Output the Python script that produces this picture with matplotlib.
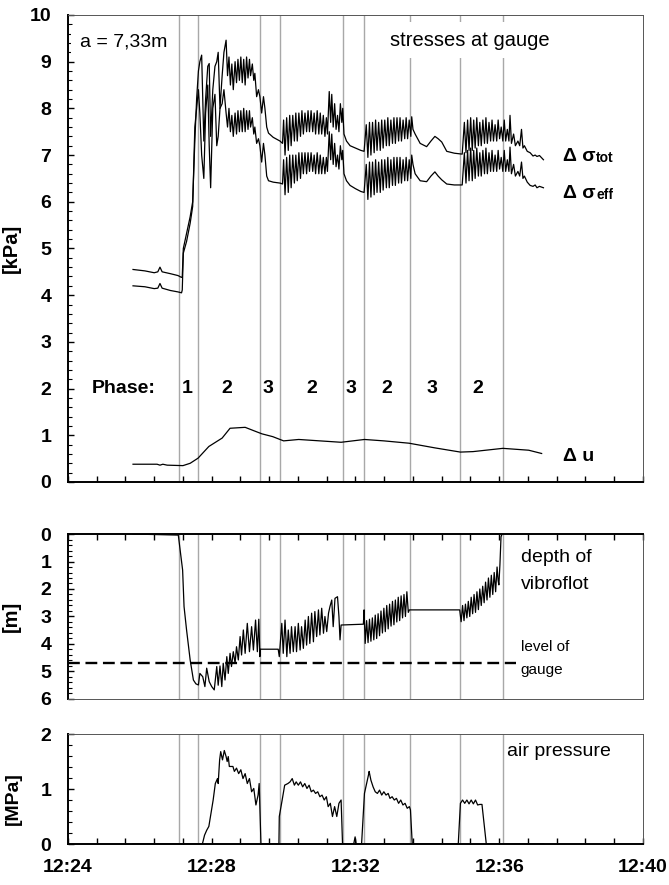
import matplotlib.pyplot as plt
from matplotlib.ticker import MultipleLocator, FuncFormatter

plt.rcParams['font.family'] = ['Liberation Sans', 'DejaVu Sans']
plt.rcParams['font.weight'] = 'bold'
plt.rcParams['axes.labelweight'] = 'bold'

# all times in minutes after 12:24
phase_lines = [3.09, 3.62, 5.34, 5.90, 7.65, 8.24, 9.52, 10.91, 12.10]
phase_names = ['1', '2', '3', '2', '3', '2', '3', '2']
phase_name_t = [3.31, 4.42, 5.57, 6.79, 7.87, 8.88, 10.13, 11.41]

# stresses at the gauge [kPa]
t_stress = [
    1.81, 2.14, 2.40, 2.50, 2.56, 2.62, 2.85, 3.06, 3.16,
    3.18, 3.21, 3.30, 3.40, 3.47, 3.53, 3.58, 3.63, 3.67, 3.72, 3.78, 3.83, 3.89, 3.93,
    3.97, 4.03, 4.09, 4.14, 4.18, 4.23, 4.29, 4.34, 4.40, 4.44, 4.48, 4.52, 4.56, 4.60,
    4.65, 4.69, 4.73, 4.77, 4.81, 4.85, 4.89, 4.93, 4.97, 5.01, 5.05, 5.08, 5.13, 5.17,
    5.20, 5.25, 5.30, 5.34, 5.39, 5.44, 5.48, 5.53, 5.58, 5.71, 5.90, 5.97,
    6.00, 6.04, 6.085, 6.13, 6.17, 6.21, 6.255, 6.30, 6.34, 6.38, 6.425, 6.47, 6.51, 6.55,
    6.595, 6.64, 6.68, 6.72, 6.765, 6.81, 6.85, 6.89, 6.935, 6.98, 7.02, 7.06, 7.105, 7.15,
    7.19, 7.22, 7.27, 7.31, 7.34, 7.38, 7.42, 7.46, 7.50, 7.54, 7.58, 7.62, 7.645,
    7.68, 7.75, 7.85, 8.00, 8.15, 8.24,
    8.30, 8.345, 8.39, 8.43, 8.475, 8.52, 8.56, 8.60, 8.645, 8.69, 8.73, 8.77, 8.815, 8.86,
    8.90, 8.94, 8.985, 9.03, 9.07, 9.11, 9.155, 9.20, 9.24, 9.28, 9.325, 9.37, 9.41, 9.45,
    9.495, 9.54, 9.565,
    9.60, 9.66, 9.80, 9.98, 10.10, 10.21, 10.30, 10.40, 10.54, 10.75, 10.97,
    11.03, 11.075, 11.12, 11.16, 11.205, 11.25, 11.29, 11.33, 11.375, 11.42, 11.46, 11.50,
    11.545, 11.59, 11.63, 11.67, 11.715, 11.76, 11.80, 11.84, 11.885, 11.93, 11.97, 12.01,
    12.055, 12.10, 12.14, 12.18, 12.225, 12.27, 12.30,
    12.34, 12.40, 12.45, 12.52, 12.57, 12.62, 12.66, 12.70, 12.78, 12.86, 12.94, 13.00,
    13.05, 13.12, 13.23,
]
sig_tot = [
    4.55, 4.52, 4.48, 4.50, 4.60, 4.50, 4.46, 4.42, 4.38,
    4.40, 5.00, 5.32, 5.68, 6.00, 7.30, 8.20, 8.80, 9.00, 9.14, 7.30, 8.20, 8.90, 8.96,
    7.40, 8.40, 8.90, 9.00, 9.20, 8.00, 8.70, 9.20, 9.46, 8.70, 9.10, 8.50, 8.95, 8.40,
    9.00, 8.55, 9.05, 8.60, 9.10, 8.55, 9.05, 8.50, 9.10, 8.65, 9.05, 8.70, 8.95, 8.60,
    8.75, 8.25, 8.40, 8.25, 7.90, 8.25, 8.00, 7.60, 7.47, 7.38, 7.30, 7.25,
    7.75, 7.00, 7.80, 7.10, 7.85, 7.20, 7.85, 7.30, 7.90, 7.30, 7.90, 7.40, 7.95, 7.45,
    7.90, 7.50, 7.95, 7.50, 7.95, 7.50, 7.90, 7.45, 7.95, 7.45, 7.90, 7.45, 7.85, 7.40,
    7.80, 7.45, 8.36, 7.70, 8.30, 7.60, 8.10, 7.55, 7.85, 7.50, 8.10, 7.70, 8.00,
    7.45, 7.30, 7.20, 7.15, 7.10, 7.08,
    7.65, 6.95, 7.70, 7.00, 7.70, 7.05, 7.75, 7.10, 7.70, 7.10, 7.75, 7.15, 7.75, 7.20,
    7.80, 7.20, 7.75, 7.25, 7.80, 7.25, 7.80, 7.30, 7.80, 7.30, 7.75, 7.35, 7.80, 7.35,
    7.75, 7.40, 7.82,
    7.55, 7.45, 7.25, 7.18, 7.30, 7.40, 7.35, 7.28, 7.08, 7.04, 7.02,
    7.70, 7.05, 7.75, 7.10, 7.80, 7.10, 7.75, 7.15, 7.80, 7.20, 7.70, 7.20,
    7.75, 7.25, 7.80, 7.25, 7.70, 7.30, 7.75, 7.30, 7.65, 7.30, 7.75, 7.35,
    7.60, 7.30, 7.75, 7.30, 7.55, 7.30, 7.85,
    7.25, 7.45, 7.20, 7.30, 7.20, 7.55, 7.15, 7.20, 7.08, 7.05, 6.98, 7.00,
    6.97, 6.99, 6.90,
]
sig_eff = [
    4.20, 4.18, 4.14, 4.15, 4.25, 4.15, 4.10, 4.07, 4.05,
    4.11, 4.90, 5.15, 5.54, 5.90, 7.60, 8.00, 8.40, 7.90, 7.00, 6.50, 7.90, 8.50, 7.20,
    6.30, 8.00, 8.30, 7.20, 7.40, 8.00, 8.10, 8.40, 7.90, 7.60, 8.00, 7.50, 7.85, 7.40,
    7.90, 7.45, 7.95, 7.50, 7.95, 7.50, 8.00, 7.50, 7.95, 7.55, 7.95, 7.60, 7.80, 7.45,
    7.60, 7.25, 7.35, 7.20, 6.85, 7.25, 7.00, 6.55, 6.45, 6.42, 6.40, 6.38,
    6.90, 6.15, 6.95, 6.20, 7.00, 6.30, 7.00, 6.40, 7.00, 6.45, 7.05, 6.50, 7.05, 6.60,
    7.05, 6.60, 7.05, 6.65, 7.05, 6.65, 7.00, 6.60, 7.05, 6.60, 7.00, 6.60, 6.95, 6.60,
    6.95, 6.65, 7.50, 6.90, 7.45, 6.80, 7.25, 6.75, 7.00, 6.70, 7.20, 6.90, 7.10,
    6.60, 6.45, 6.35, 6.28, 6.22, 6.20,
    6.80, 6.05, 6.85, 6.10, 6.85, 6.15, 6.90, 6.20, 6.85, 6.20, 6.90, 6.25, 6.90, 6.30,
    6.95, 6.30, 6.90, 6.35, 6.95, 6.35, 6.95, 6.40, 6.95, 6.40, 6.90, 6.45, 6.95, 6.45,
    6.90, 6.50, 7.00,
    6.80, 6.60, 6.45, 6.43, 6.55, 6.64, 6.55, 6.47, 6.38, 6.36, 6.36,
    7.05, 6.40, 7.10, 6.45, 7.15, 6.45, 7.10, 6.50, 7.15, 6.55, 7.05, 6.55,
    7.10, 6.60, 7.15, 6.60, 7.05, 6.65, 7.10, 6.65, 7.00, 6.65, 7.10, 6.70,
    6.95, 6.65, 7.10, 6.65, 6.90, 6.65, 7.17,
    6.60, 6.80, 6.55, 6.65, 6.55, 6.85, 6.50, 6.55, 6.42, 6.35, 6.33, 6.36,
    6.30, 6.33, 6.30,
]

# pore water pressure [kPa]
t_u = [1.81, 2.48, 2.56, 2.64, 2.76, 3.20, 3.40, 3.62, 3.92, 4.29, 4.51, 4.93, 5.23, 5.40,
       5.70, 6.00, 6.42, 7.01, 7.60, 8.25, 8.79, 9.49, 10.21, 10.92, 11.27, 12.10, 12.82, 13.18]
du = [0.38, 0.38, 0.36, 0.38, 0.36, 0.35, 0.40, 0.51, 0.76, 0.94, 1.15, 1.17, 1.08, 1.03,
      0.97, 0.88, 0.91, 0.88, 0.85, 0.91, 0.88, 0.83, 0.73, 0.64, 0.65, 0.72, 0.68, 0.61]

# depth of vibroflot [m]
t_depth = [
    1.81, 3.07, 3.19, 3.23, 3.30, 3.40, 3.49, 3.56, 3.63, 3.67, 3.75, 3.81, 3.86, 3.93,
    4.00, 4.07, 4.14, 4.18, 4.23, 4.28, 4.32, 4.37, 4.42, 4.46, 4.51, 4.55, 4.60, 4.65,
    4.69, 4.74, 4.79, 4.83, 4.88, 4.93, 4.99, 5.05, 5.11, 5.16, 5.22, 5.27, 5.31, 5.34,
    5.35, 5.85, 5.88, 5.95, 5.99, 6.04, 6.09, 6.13, 6.18, 6.22, 6.27, 6.32, 6.36, 6.41,
    6.46, 6.50, 6.55, 6.60, 6.64, 6.69, 6.73, 6.78, 6.83, 6.87, 6.92, 6.97, 7.01, 7.06,
    7.11, 7.15, 7.20, 7.25, 7.29, 7.34, 7.38, 7.43, 7.50, 7.54, 7.57, 7.60,
    8.22, 8.24, 8.27, 8.31, 8.35, 8.39, 8.43, 8.47, 8.51, 8.55, 8.59, 8.63, 8.67, 8.71,
    8.75, 8.79, 8.83, 8.87, 8.91, 8.95, 8.99, 9.03, 9.07, 9.11, 9.15, 9.19, 9.23, 9.27,
    9.31, 9.35, 9.39, 9.43, 9.47, 9.50,
    10.90, 10.94, 10.98, 11.02, 11.06, 11.10, 11.14, 11.18, 11.22, 11.26, 11.30, 11.34,
    11.38, 11.42, 11.46, 11.50, 11.54, 11.58, 11.62, 11.66, 11.70, 11.74, 11.78, 11.82,
    11.86, 11.90, 11.94, 11.97, 11.99, 12.02, 12.05, 12.08,
]
depth = [
    0.00, 0.04, 1.31, 2.64, 3.49, 4.58, 5.31, 5.45, 5.49, 5.07, 5.19, 5.55, 4.88, 5.37,
    5.55, 5.67, 4.82, 5.50, 4.80, 5.55, 4.70, 5.31, 4.46, 5.07, 4.34, 4.82, 4.28, 4.70,
    4.10, 4.58, 3.73, 4.40, 3.49, 4.34, 3.25, 4.28, 3.37, 4.22, 3.13, 4.28, 3.10, 4.46,
    4.19, 4.19, 4.46, 3.25, 4.34, 3.13, 4.46, 3.49, 4.34, 3.37, 4.28, 3.37, 4.28, 3.25,
    4.22, 3.37, 4.16, 3.13, 4.04, 3.00, 3.98, 2.88, 3.92, 2.82, 3.73, 2.76, 3.67, 2.70,
    3.61, 3.00, 3.55, 2.88, 2.64, 2.40, 3.37, 2.34, 2.28, 3.00, 3.85, 3.31,
    3.28, 2.76, 3.98, 3.15, 3.95, 3.10, 3.90, 3.05, 3.85, 2.95, 3.80, 2.90, 3.70, 2.80,
    3.60, 2.70, 3.55, 2.60, 3.45, 2.55, 3.35, 2.45, 3.30, 2.40, 3.20, 2.30, 3.15, 2.25,
    3.05, 2.20, 3.00, 2.10, 2.85, 2.76,
    2.76, 3.19, 2.60, 3.15, 2.55, 3.05, 2.45, 3.00, 2.30, 2.90, 2.20, 2.85,
    2.10, 2.75, 2.00, 2.60, 1.90, 2.50, 1.75, 2.40, 1.60, 2.30, 1.50, 2.20,
    1.40, 2.10, 1.20, 1.70, 1.85, 1.10, 0.10, 0.00,
]
gauge_level = 4.7
gauge_end = 12.47

# air pressure [MPa]
t_air = [
    1.81, 3.74, 3.80, 3.86, 3.92, 3.98, 4.04, 4.10, 4.16, 4.18, 4.22, 4.25, 4.30, 4.35,
    4.40, 4.43, 4.46, 4.49, 4.54, 4.59, 4.63, 4.69, 4.75, 4.81, 4.87, 4.93, 4.99, 5.05,
    5.11, 5.17, 5.23, 5.29, 5.32, 5.37,
    5.87, 5.88, 5.96, 6.03, 6.12, 6.18, 6.24, 6.30, 6.35, 6.41, 6.47, 6.53, 6.59, 6.65,
    6.71, 6.77, 6.83, 6.89, 6.95, 7.01, 7.07, 7.13, 7.19, 7.24, 7.30, 7.36, 7.42, 7.48,
    7.54, 7.60, 7.64,
    7.95, 7.99, 8.02,
    8.17, 8.25, 8.31, 8.37, 8.38, 8.43, 8.49, 8.55, 8.61, 8.67, 8.73, 8.79, 8.85, 8.91,
    8.96, 9.02, 9.08, 9.14, 9.20, 9.26, 9.32, 9.38, 9.44, 9.50, 9.53, 9.58,
    10.86, 10.92, 10.98, 11.04, 11.10, 11.16, 11.22, 11.28, 11.34, 11.40, 11.46, 11.52,
    11.64, 13.23,
]
air = [
    0.00, 0.00, 0.16, 0.25, 0.32, 0.56, 0.80, 1.10, 1.19, 1.10, 1.53, 1.68, 1.53, 1.70,
    1.59, 1.50, 1.59, 1.41, 1.41, 1.41, 1.32, 1.38, 1.28, 1.35, 1.19, 1.28, 1.10, 1.19,
    0.95, 1.01, 0.71, 0.89, 1.10, 0.00,
    0.00, 0.50, 0.80, 1.07, 1.10, 1.13, 1.19, 1.07, 1.13, 1.07, 1.13, 1.04, 1.10, 1.01,
    1.07, 0.95, 0.98, 0.92, 0.95, 0.86, 0.89, 0.80, 0.86, 0.68, 0.74, 0.50, 0.68, 0.50,
    0.74, 0.80, 0.00,
    0.00, 0.13, 0.00,
    0.00, 0.92, 1.10, 1.28, 1.32, 1.16, 1.04, 0.95, 0.92, 0.98, 0.89, 0.95, 0.89, 0.92,
    0.83, 0.86, 0.80, 0.83, 0.74, 0.80, 0.71, 0.74, 0.65, 0.68, 0.62, 0.00,
    0.00, 0.74, 0.80, 0.74, 0.80, 0.73, 0.80, 0.73, 0.80, 0.71, 0.72, 0.72,
    0.00, 0.00,
]

line_grey = '#a8a8a8'


def clock(v, pos):
    k = int(round(v / 0.8))
    if k % 5:
        return ''
    return '12:%02d' % (24 + 4 * (k // 5))


def setup(ax, thick, ystep):
    for side, sp in ax.spines.items():
        if side in thick:
            sp.set_linewidth(1.4)
            sp.set_color('black')
        else:
            sp.set_linewidth(0.7)
            sp.set_color('#555555')
    ax.set_xlim(0, 16)
    ax.xaxis.set_major_locator(MultipleLocator(0.8))
    ax.yaxis.set_major_locator(MultipleLocator(ystep))
    ax.yaxis.set_minor_locator(MultipleLocator(0.2))
    ax.tick_params(axis='x', direction='in', length=4, width=1)
    ax.tick_params(axis='y', which='major', direction='in', length=4, width=1,
                   labelsize=14, pad=12)
    ax.tick_params(axis='y', which='minor', direction='in', length=3, width=0.8)
    for t in phase_lines:
        ax.axvline(t, color=line_grey, lw=1.0, zorder=1)


fig = plt.figure(figsize=(6.69, 8.85), dpi=100)
ax1 = fig.add_axes([0.1016, 0.4554, 0.8595, 0.5277])
ax2 = fig.add_axes([0.1016, 0.2102, 0.8595, 0.1864])
ax3 = fig.add_axes([0.1016, 0.0463, 0.8595, 0.1243])

# --- stresses ---
setup(ax1, ('left', 'bottom'), 1)
ax1.set_ylim(0, 10)
ax1.xaxis.set_major_formatter(FuncFormatter(lambda v, p: ''))
ax1.plot(t_stress, sig_tot, color='black', lw=0.9, zorder=3)
ax1.plot(t_stress, sig_eff, color='black', lw=0.9, zorder=3)
ax1.plot(t_u, du, color='black', lw=0.9, zorder=3)
ax1.set_ylabel('[kPa]', fontsize=14.5)
ax1.yaxis.set_label_coords(-0.082, 0.5)

ax1.text(0.33, 9.42, 'a = 7,33m', fontsize=14, fontweight='normal', va='center',
         bbox=dict(facecolor='white', edgecolor='none', pad=6), zorder=4)
ax1.text(8.96, 9.46, 'stresses at gauge', fontsize=14.5, fontweight='normal', va='center',
         bbox=dict(facecolor='white', edgecolor='none', pad=6), zorder=4)

ax1.text(0.67, 2.0, 'Phase:', fontsize=14, va='center')
for t, name in zip(phase_name_t, phase_names):
    ax1.text(t, 2.0, name, fontsize=14, va='center', ha='center')

main = ax1.text(13.77, 6.96, 'Δ σ', fontsize=14, va='center')
ax1.annotate('tot', xy=(1, 0), xycoords=main, xytext=(0.5, 0), textcoords='offset points',
             fontsize=10, va='bottom')
main = ax1.text(13.77, 6.17, 'Δ σ', fontsize=14, va='center')
ax1.annotate('eff', xy=(1, 0), xycoords=main, xytext=(0.5, 0), textcoords='offset points',
             fontsize=10, va='bottom')
ax1.text(13.77, 0.54, 'Δ u', fontsize=14, va='center')

# --- depth of vibroflot ---
setup(ax2, ('left', 'top'), 1)
ax2.set_ylim(6, 0)
ax2.xaxis.set_ticks_position('top')
ax2.xaxis.set_major_formatter(FuncFormatter(lambda v, p: ''))
ax2.plot(t_depth, depth, color='black', lw=0.9, zorder=3)
ax2.plot([0, gauge_end], [gauge_level, gauge_level], color='black', lw=1.7,
         ls=(0, (5, 2.4)), zorder=3)
ax2.set_ylabel('[m]', fontsize=14.5)
ax2.yaxis.set_label_coords(-0.082, 0.5)
ax2.text(12.6, 0.87, 'depth of', fontsize=14, fontweight='normal', va='center')
ax2.text(12.6, 1.85, 'vibroflot', fontsize=14, fontweight='normal', va='center')
ax2.text(12.6, 4.1, 'level of', fontsize=11, fontweight='normal', va='center')
ax2.text(12.6, 4.95, 'gauge', fontsize=11, fontweight='normal', va='center')

# --- air pressure ---
setup(ax3, ('left', 'bottom'), 1)
ax3.set_ylim(0, 2)
ax3.xaxis.set_major_formatter(FuncFormatter(clock))
ax3.tick_params(axis='x', labelsize=14, pad=11)
ax3.plot(t_air, air, color='black', lw=0.9, zorder=3)
ax3.set_ylabel('[MPa]', fontsize=14)
ax3.yaxis.set_label_coords(-0.080, 0.41)
ax3.text(12.23, 1.68, 'air pressure', fontsize=14, fontweight='normal', va='center')

fig.savefig('out.png', dpi=100)
